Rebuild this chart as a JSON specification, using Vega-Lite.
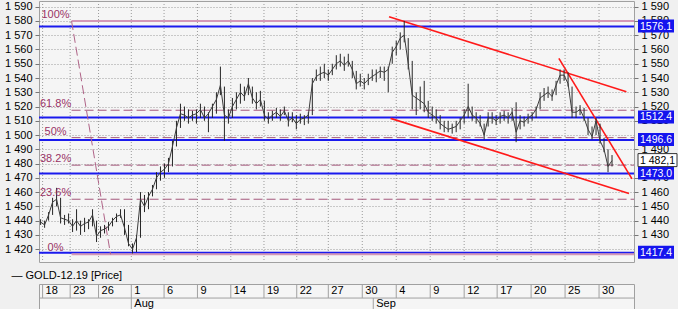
{
"$schema": "https://vega.github.io/schema/vega-lite/v6.json",
"padding": {"left": 3, "top": 0, "right": 0, "bottom": 0},
"background": "#f0f0f0",
"spacing": 6,
"datasets": {
"price": [
{"i":0,"lo":1437,"hi":1441,"c":1439},{"i":1,"lo":1435,"hi":1440,"c":1437},{"i":2,"lo":1440,"hi":1446,"c":1444},{"i":3,"lo":1444,"hi":1456,"c":1453},{"i":4,"lo":1450,"hi":1463,"c":1455},{"i":5,"lo":1438,"hi":1456,"c":1442},{"i":6,"lo":1437,"hi":1444,"c":1441},{"i":7,"lo":1438,"hi":1445,"c":1440},{"i":8,"lo":1432,"hi":1441,"c":1436},{"i":9,"lo":1433,"hi":1448,"c":1440},
{"i":10,"lo":1430,"hi":1440,"c":1436},{"i":11,"lo":1432,"hi":1442,"c":1438},{"i":12,"lo":1434,"hi":1441,"c":1439},{"i":13,"lo":1436,"hi":1448,"c":1444},{"i":14,"lo":1425,"hi":1440,"c":1429},{"i":15,"lo":1428,"hi":1436,"c":1433},{"i":16,"lo":1431,"hi":1437,"c":1434},{"i":17,"lo":1433,"hi":1439,"c":1436},{"i":18,"lo":1436,"hi":1442,"c":1440},{"i":19,"lo":1439,"hi":1445,"c":1443},
{"i":20,"lo":1442,"hi":1448,"c":1444},{"i":21,"lo":1430,"hi":1448,"c":1435},{"i":22,"lo":1422,"hi":1437,"c":1424},{"i":23,"lo":1417,"hi":1424,"c":1420},{"i":24,"lo":1418,"hi":1430,"c":1428},{"i":25,"lo":1428,"hi":1460,"c":1455},{"i":26,"lo":1446,"hi":1458,"c":1450},{"i":27,"lo":1448,"hi":1460,"c":1457},{"i":28,"lo":1457,"hi":1465,"c":1462},{"i":29,"lo":1462,"hi":1474,"c":1470},
{"i":30,"lo":1468,"hi":1478,"c":1474},{"i":31,"lo":1470,"hi":1480,"c":1476},{"i":32,"lo":1474,"hi":1484,"c":1480},{"i":33,"lo":1478,"hi":1496,"c":1492},{"i":34,"lo":1492,"hi":1510,"c":1505},{"i":35,"lo":1505,"hi":1522,"c":1515},{"i":36,"lo":1510,"hi":1520,"c":1514},{"i":37,"lo":1508,"hi":1518,"c":1512},{"i":38,"lo":1510,"hi":1517,"c":1514},{"i":39,"lo":1508,"hi":1518,"c":1515},
{"i":40,"lo":1512,"hi":1522,"c":1518},{"i":41,"lo":1510,"hi":1520,"c":1512},{"i":42,"lo":1502,"hi":1516,"c":1515},{"i":43,"lo":1512,"hi":1522,"c":1520},{"i":44,"lo":1515,"hi":1530,"c":1525},{"i":45,"lo":1528,"hi":1548,"c":1535},{"i":46,"lo":1496,"hi":1534,"c":1514},{"i":47,"lo":1508,"hi":1518,"c":1512},{"i":48,"lo":1512,"hi":1526,"c":1520},{"i":49,"lo":1518,"hi":1530,"c":1525},
{"i":50,"lo":1522,"hi":1536,"c":1530},{"i":51,"lo":1524,"hi":1534,"c":1527},{"i":52,"lo":1528,"hi":1540,"c":1536},{"i":53,"lo":1522,"hi":1534,"c":1526},{"i":54,"lo":1518,"hi":1530,"c":1522},{"i":55,"lo":1520,"hi":1531,"c":1525},{"i":56,"lo":1510,"hi":1524,"c":1514},{"i":57,"lo":1508,"hi":1516,"c":1511},{"i":58,"lo":1510,"hi":1517,"c":1514},{"i":59,"lo":1512,"hi":1519,"c":1516},
{"i":60,"lo":1510,"hi":1518,"c":1513},{"i":61,"lo":1514,"hi":1520,"c":1517},{"i":62,"lo":1506,"hi":1516,"c":1510},{"i":63,"lo":1509,"hi":1516,"c":1512},{"i":64,"lo":1504,"hi":1514,"c":1508},{"i":65,"lo":1508,"hi":1515,"c":1511},{"i":66,"lo":1507,"hi":1514,"c":1512},{"i":67,"lo":1508,"hi":1516,"c":1514},{"i":68,"lo":1514,"hi":1540,"c":1536},{"i":69,"lo":1538,"hi":1546,"c":1541},
{"i":70,"lo":1538,"hi":1548,"c":1543},{"i":71,"lo":1540,"hi":1550,"c":1544},{"i":72,"lo":1538,"hi":1546,"c":1542},{"i":73,"lo":1542,"hi":1550,"c":1546},{"i":74,"lo":1546,"hi":1556,"c":1550},{"i":75,"lo":1548,"hi":1557,"c":1552},{"i":76,"lo":1545,"hi":1555,"c":1549},{"i":77,"lo":1548,"hi":1557,"c":1552},{"i":78,"lo":1540,"hi":1552,"c":1546},{"i":79,"lo":1532,"hi":1545,"c":1536},
{"i":80,"lo":1534,"hi":1543,"c":1538},{"i":81,"lo":1532,"hi":1540,"c":1536},{"i":82,"lo":1535,"hi":1543,"c":1539},{"i":83,"lo":1538,"hi":1546,"c":1541},{"i":84,"lo":1537,"hi":1546,"c":1543},{"i":85,"lo":1540,"hi":1548,"c":1545},{"i":86,"lo":1538,"hi":1548,"c":1544},{"i":87,"lo":1530,"hi":1548,"c":1546},{"i":88,"lo":1550,"hi":1562,"c":1558},{"i":89,"lo":1556,"hi":1566,"c":1562},
{"i":90,"lo":1560,"hi":1572,"c":1568},{"i":91,"lo":1565,"hi":1580,"c":1570},{"i":92,"lo":1546,"hi":1568,"c":1550},{"i":93,"lo":1518,"hi":1552,"c":1528},{"i":94,"lo":1514,"hi":1530,"c":1526},{"i":95,"lo":1518,"hi":1534,"c":1524},{"i":96,"lo":1516,"hi":1538,"c":1522},{"i":97,"lo":1512,"hi":1524,"c":1516},{"i":98,"lo":1510,"hi":1520,"c":1514},{"i":99,"lo":1508,"hi":1518,"c":1512},
{"i":100,"lo":1504,"hi":1514,"c":1508},{"i":101,"lo":1502,"hi":1510,"c":1506},{"i":102,"lo":1502,"hi":1510,"c":1504},{"i":103,"lo":1501,"hi":1508,"c":1505},{"i":104,"lo":1502,"hi":1510,"c":1506},{"i":105,"lo":1504,"hi":1512,"c":1510},{"i":106,"lo":1508,"hi":1518,"c":1514},{"i":107,"lo":1512,"hi":1536,"c":1520},{"i":108,"lo":1510,"hi":1520,"c":1514},{"i":109,"lo":1508,"hi":1516,"c":1512},
{"i":110,"lo":1506,"hi":1514,"c":1508},{"i":111,"lo":1497,"hi":1508,"c":1500},{"i":112,"lo":1506,"hi":1516,"c":1512},{"i":113,"lo":1508,"hi":1516,"c":1512},{"i":114,"lo":1507,"hi":1514,"c":1510},{"i":115,"lo":1508,"hi":1516,"c":1513},{"i":116,"lo":1510,"hi":1517,"c":1514},{"i":117,"lo":1508,"hi":1516,"c":1512},{"i":118,"lo":1510,"hi":1519,"c":1516},{"i":119,"lo":1495,"hi":1523,"c":1502},
{"i":120,"lo":1504,"hi":1514,"c":1510},{"i":121,"lo":1506,"hi":1513,"c":1509},{"i":122,"lo":1508,"hi":1515,"c":1512},{"i":123,"lo":1510,"hi":1516,"c":1514},{"i":124,"lo":1512,"hi":1520,"c":1518},{"i":125,"lo":1518,"hi":1530,"c":1526},{"i":126,"lo":1524,"hi":1533,"c":1528},{"i":127,"lo":1526,"hi":1534,"c":1530},{"i":128,"lo":1524,"hi":1532,"c":1527},{"i":129,"lo":1528,"hi":1538,"c":1535},
{"i":130,"lo":1536,"hi":1546,"c":1542},{"i":131,"lo":1538,"hi":1546,"c":1542},{"i":132,"lo":1534,"hi":1544,"c":1536},{"i":133,"lo":1512,"hi":1534,"c":1516},{"i":134,"lo":1512,"hi":1520,"c":1516},{"i":135,"lo":1514,"hi":1521,"c":1518},{"i":136,"lo":1510,"hi":1519,"c":1512},{"i":137,"lo":1500,"hi":1512,"c":1504},{"i":138,"lo":1497,"hi":1506,"c":1499},{"i":139,"lo":1500,"hi":1512,"c":1510},
{"i":140,"lo":1494,"hi":1508,"c":1496},{"i":141,"lo":1488,"hi":1498,"c":1490},{"i":142,"lo":1474,"hi":1490,"c":1478},{"i":143,"lo":1478,"hi":1486,"c":1482.1}
],
"ticks": [
{"i":0.5,"t":"18"},{"i":7.4,"t":"23"},{"i":14.5,"t":"26"},{"i":22.7,"t":"1"},{"i":30.9,"t":"6"},{"i":39.25,"t":"9"},{"i":47.6,"t":"14"},{"i":55.9,"t":"19"},{"i":64.1,"t":"22"},{"i":72,"t":"27"},{"i":80.5,"t":"30"},{"i":89,"t":"4"},{"i":97.5,"t":"9"},{"i":106,"t":"12"},{"i":114.25,"t":"17"},{"i":122.75,"t":"20"},{"i":131.25,"t":"25"},{"i":139.75,"t":"30"}
],
"months": [{"i":22.7,"t":"Aug"},{"i":83.25,"t":"Sep"}],
"fib": [
{"lbl":"100%","p":1579.9,"sty":"s","x0":7.75,"x1":148.5},
{"lbl":"61.8%","p":1517.4,"sty":"d","x0":7.75,"x1":148.5},
{"lbl":"50%","p":1498.2,"sty":"d","x0":7.75,"x1":148.5},
{"lbl":"38.2%","p":1478.9,"sty":"d","x0":7.75,"x1":148.5},
{"lbl":"23.6%","p":1455.0,"sty":"d","x0":7.75,"x1":148.5},
{"lbl":"0%","p":1416.4,"sty":"s","x0":7.75,"x1":148.5}
],
"diag": [{"x0":7.75,"p0":1579.9,"x1":17.5,"p1":1416.4}],
"levels": [{"p":1576.1},{"p":1512.4},{"p":1496.6},{"p":1473.0},{"p":1417.4}],
"trend": [
{"x0":87.2,"p0":1583,"x1":146.6,"p1":1530.4},
{"x0":87.6,"p0":1511.7,"x1":147.25,"p1":1459.1},
{"x0":129.7,"p0":1553.8,"x1":148,"p1":1469.3}
],
"tags": [
{"p":1576.1,"t":"1576.1","k":"b","xe":148.5},
{"p":1512.4,"t":"1512.4","k":"b","xe":148.5},
{"p":1496.6,"t":"1496.6","k":"b","xe":148.5},
{"p":1473.0,"t":"1473.0","k":"b","xe":148.5},
{"p":1417.4,"t":"1417.4","k":"b","xe":148.5},
{"p":1482.1,"t":"1 482,1","k":"w","xe":148.5}
]
},
"vconcat": [
{
"width": 595,
"height": 261,
"resolve": {"axis": {"y": "independent"}},
"layer": [
{
"data": {"name": "ticks"},
"mark": {"type": "rule", "color": "#9a9a9a", "strokeDash": [1, 2], "strokeWidth": 1},
"encoding": {
"x": {"field": "i", "type": "quantitative", "scale": {"domain": [-0.4, 148.5], "nice": false, "zero": false}, "axis": null}
}
},
{
"data": {"name": "levels"},
"mark": {"type": "rule", "color": "#1a1aee", "strokeWidth": 2},
"encoding": {
"y": {"field": "p", "type": "quantitative", "scale": {"domain": [1411, 1594], "nice": false, "zero": false},
"axis": {"orient": "left", "title": null, "values": [1420,1430,1440,1450,1460,1470,1480,1490,1500,1510,1520,1530,1540,1550,1560,1570,1580,1590], "grid": true, "gridDash": [1, 2], "gridColor": "#9a9a9a", "tickSize": 4, "tickColor": "#777", "labelPadding": 3, "domain": false, "labelFontSize": 11, "labelColor": "#000", "labelExpr": "replace(format(datum.value, ','), ',', ' ')"}}
}
},
{
"data": {"name": "fib"},
"mark": {"type": "rule"},
"encoding": {
"x": {"field": "x0", "type": "quantitative", "axis": null},
"x2": {"field": "x1"},
"y": {"field": "p", "type": "quantitative", "axis": null},
"color": {"condition": {"test": "datum.sty === 's'", "value": "#d497b6"}, "value": "#a4587c"},
"strokeWidth": {"condition": {"test": "datum.sty === 's'", "value": 2}, "value": 1},
"strokeDash": {"condition": {"test": "datum.sty === 's'", "value": [1, 0]}, "value": [9, 4]}
}
},
{
"data": {"name": "diag"},
"mark": {"type": "rule", "color": "#b06488", "strokeDash": [9, 4], "strokeWidth": 1},
"encoding": {
"x": {"field": "x0", "type": "quantitative", "axis": null},
"x2": {"field": "x1"},
"y": {"field": "p0", "type": "quantitative", "axis": null},
"y2": {"field": "p1"}
}
},
{
"data": {"name": "trend"},
"mark": {"type": "rule", "color": "#ff1a1a", "strokeWidth": 1.6},
"encoding": {
"x": {"field": "x0", "type": "quantitative", "axis": null},
"x2": {"field": "x1"},
"y": {"field": "p0", "type": "quantitative", "axis": null},
"y2": {"field": "p1"}
}
},
{
"data": {"name": "price"},
"mark": {"type": "rule", "color": "#262626", "strokeWidth": 1},
"encoding": {
"x": {"field": "i", "type": "quantitative", "axis": null},
"y": {"field": "lo", "type": "quantitative", "axis": null},
"y2": {"field": "hi"}
}
},
{
"data": {"name": "price"},
"mark": {"type": "line", "color": "#3c3c3c", "strokeWidth": 1},
"encoding": {
"x": {"field": "i", "type": "quantitative", "axis": null},
"y": {"field": "c", "type": "quantitative", "axis": null}
}
},
{
"data": {"name": "fib"},
"mark": {"type": "text", "align": "center", "baseline": "bottom", "dx": -16, "dy": -1, "fontSize": 11, "color": "#993366", "font": "Liberation Sans"},
"encoding": {
"x": {"field": "x0", "type": "quantitative", "axis": null},
"y": {"field": "p", "type": "quantitative", "axis": null},
"text": {"field": "lbl"}
}
},
{
"data": {"name": "tags"},
"transform": [{"filter": "datum.k === 'b'"}],
"mark": {"type": "rect", "fill": "#1414ee", "xOffset": 4, "x2Offset": 40, "yOffset": -7, "y2Offset": 6},
"encoding": {
"x": {"field": "xe", "type": "quantitative", "axis": null},
"x2": {"field": "xe"},
"y": {"field": "p", "type": "quantitative",
"axis": {"orient": "right", "title": null, "values": [1430,1440,1450,1460,1470,1490,1510,1520,1530,1540,1550,1560,1570,1580,1590], "grid": false, "tickSize": 4, "tickColor": "#777", "labelPadding": 3, "domain": false, "labelFontSize": 11, "labelColor": "#000", "labelExpr": "replace(format(datum.value, ','), ',', ' ')"}},
"y2": {"field": "p"}
}
},
{
"data": {"name": "tags"},
"transform": [{"filter": "datum.k === 'w'"}],
"mark": {"type": "rect", "fill": "#ffffff", "stroke": "#333333", "strokeWidth": 1, "xOffset": 4, "x2Offset": 43, "yOffset": -7, "y2Offset": 6},
"encoding": {
"x": {"field": "xe", "type": "quantitative", "axis": null},
"x2": {"field": "xe"},
"y": {"field": "p", "type": "quantitative", "axis": null},
"y2": {"field": "p"}
}
},
{
"data": {"name": "tags"},
"mark": {"type": "text", "align": "left", "baseline": "middle", "dx": 6, "fontSize": 10.5, "font": "Liberation Sans"},
"encoding": {
"x": {"field": "xe", "type": "quantitative", "axis": null},
"y": {"field": "p", "type": "quantitative", "axis": null},
"text": {"field": "t"},
"color": {"condition": {"test": "datum.k === 'b'", "value": "#ffffff"}, "value": "#000000"},
"fontWeight": {"condition": {"test": "datum.k === 'b'", "value": "bold"}, "value": "normal"}
}
}
]
},
{
"width": 595,
"height": 26,
"title": {"text": "— GOLD-12.19 [Price]", "anchor": "start", "dx": -27, "fontSize": 11, "fontWeight": "normal", "color": "#000", "offset": 3, "font": "Liberation Sans"},
"layer": [
{
"data": {"values": [{"y": 0.46}]},
"mark": {"type": "rule", "color": "#a0a0a0"},
"encoding": {
"y": {"field": "y", "type": "quantitative", "scale": {"domain": [0, 1], "nice": false, "zero": false}, "axis": null}
}
},
{
"data": {"name": "ticks"},
"mark": {"type": "rule", "color": "#a0a0a0"},
"encoding": {
"x": {"field": "i", "type": "quantitative", "scale": {"domain": [-0.4, 148.5], "nice": false, "zero": false}, "axis": null},
"y": {"datum": 0.46, "type": "quantitative"},
"y2": {"datum": 1}
}
},
{
"data": {"name": "months"},
"mark": {"type": "rule", "color": "#a0a0a0"},
"encoding": {
"x": {"field": "i", "type": "quantitative", "axis": null},
"y": {"datum": 0, "type": "quantitative"},
"y2": {"datum": 0.46}
}
},
{
"data": {"name": "ticks"},
"mark": {"type": "text", "align": "left", "baseline": "middle", "dx": 3, "fontSize": 11, "color": "#000", "font": "Liberation Sans"},
"encoding": {
"x": {"field": "i", "type": "quantitative", "axis": null},
"y": {"datum": 0.74, "type": "quantitative"},
"text": {"field": "t"}
}
},
{
"data": {"name": "months"},
"mark": {"type": "text", "align": "left", "baseline": "middle", "dx": 3, "fontSize": 11, "color": "#000", "font": "Liberation Sans"},
"encoding": {
"x": {"field": "i", "type": "quantitative", "axis": null},
"y": {"datum": 0.22, "type": "quantitative"},
"text": {"field": "t"}
}
}
]
}
],
"config": {
"font": "Liberation Sans",
"view": {"stroke": "#a0a0a0", "fill": "#f5f5f5"},
"axis": {"labelFont": "Liberation Sans"},
"title": {"font": "Liberation Sans"}
}
}
